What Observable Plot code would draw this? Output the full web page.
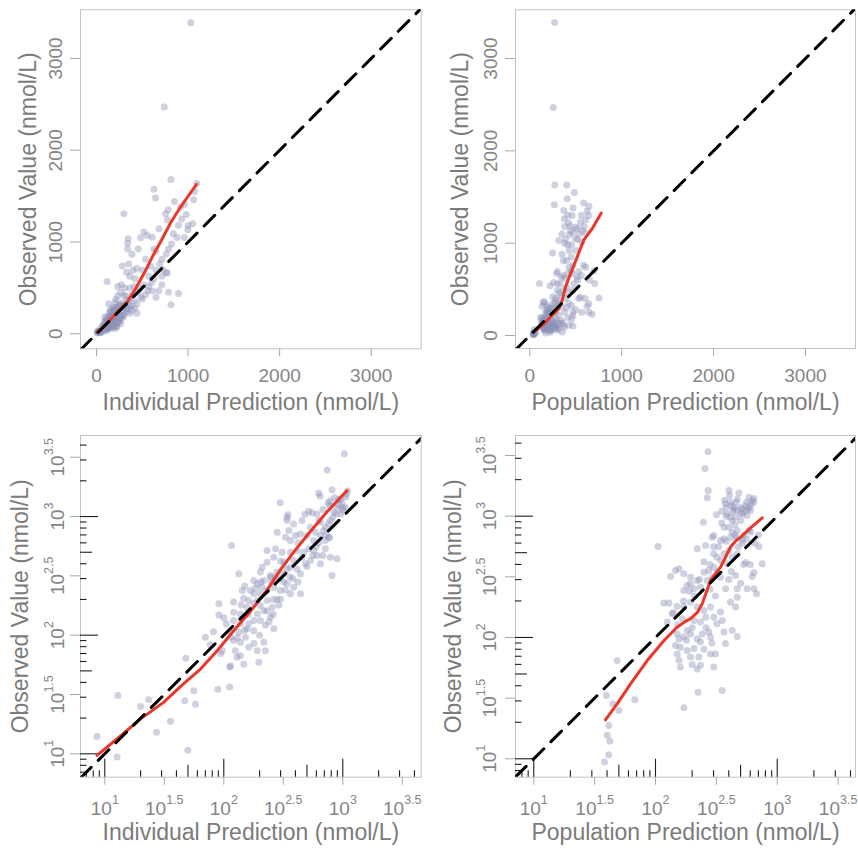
<!DOCTYPE html>
<html><head><meta charset="utf-8">
<script src="https://cdn.jsdelivr.net/npm/d3@7"></script>
<script src="https://cdn.jsdelivr.net/npm/@observablehq/plot@0.6"></script>
<style>
body{margin:0;background:#fff;}
#fig{position:relative;width:858px;height:855px;background:#fff;}
.panel{position:absolute;}
.panel svg{overflow:visible;}
</style></head><body><div id="fig"></div>
<script>
// ---- data: [individual prediction, observed] (nmol/L)
const indivPoints = [
[1030,3390],[740,2470],[628,1574],[813,1680],[1095,1640],[645,1480],[852,1443],[917,1382],[961,1410],[1060,1460],
[783,1352],[753,1309],[298,1309],[775,1240],[895,1183],[681,1145],[839,1089],[1001,1181],[997,1134],[608,1052],
[518,1109],[480,1047],[553,1072],[346,1036],[340,986],
[116,570],[340,925],[387,867],[455,925],[535,813],[628,925],[714,813],[787,925],[352,762],[400,692],
[441,714],[501,692],[589,738],[649,692],[762,670],[363,628],[281,738],[330,670],[231,517],[272,535],
[309,500],[363,500],[413,517],[470,500],[570,517],[608,469],[714,535],[787,454],[895,440],[210,374],
[231,412],[263,454],[319,412],[363,374],[413,362],[485,399],[535,426],[649,399],[813,318],[441,329],
[281,340],[134,329],[203,340],[247,318],
[179,289],[210,254],[272,308],[319,329],[340,362],[387,426],[455,454],[518,535],[628,600],[714,628],
[771,661],[649,900],[570,628],[191,196],[147,205],[231,161],
[143,238],[167,238],[191,271],[217,289],[247,308],[299,299],[340,271],[387,254],[441,223],[299,202],
[363,223],[162,196],[179,223],[203,223],[231,238],[263,254],[121,156],[138,151],[91,184],[121,190],
[157,172],[179,184],[203,178],[231,196],[255,172],[299,238],[191,151],[217,161],[247,142],[263,113],
[121,133],[138,125],[162,125],[179,133],[203,133],[224,121],[157,113],[179,109],[114,109],[134,106],
[91,148],[82,107],
[70,96],[77,83],[97,74],[94,70],[114,96],[121,90],[125,74],[138,87],[152,96],[162,79],
[179,85],[191,74],[217,87],[224,74],[138,67],[129,65],[114,55],[112,54],[147,57],[197,59],
[89,35],[112,36.5],[48,64],[56,34],[47,28],
[8.6,14],[12.7,9.4],[12.9,31],[20,25],[23.4,28.5],[27.2,15.2],[35.6,18.8],[57.8,26.1],[49.8,10.7],
[150,260],[260,200],[290,180],[330,240],[380,300],[420,280],[500,380],[560,470],[600,560],[680,470],
[720,700],[760,870],[820,980],[880,1050],[930,1250],[980,1300],[1050,1200],[1070,1550],[960,1050],[690,760],
[420,600],[300,420],[250,280],[205,280],[185,250],[160,150],[140,180],[105,125],[100,140],[130,95],
[150,110],[200,100],[240,130],[260,150],[280,200],[320,280],[360,310]
];
// ---- data: [population prediction, observed] (nmol/L)
const popPoints = [
[270,3390],[255,2470],[271,1630],[266,1417],[401,1630],[484,1549],[585,1435],[623,1346],[643,1400],[413,1303],
[376,1264],[441,1186],[469,1114],[500,1172],[550,1225],[604,1114],[566,1012],[455,982],[413,982],[388,1045],
[316,1029],[442,1138],[515,1155],[570,1138],[380,1180],[430,1090],[520,1040],[560,1300],[610,1250],[470,1380],
[406,1481],[370,1354],
[427,921],[500,921],[365,811],[401,811],[427,738],[469,762],[532,693],[585,762],[413,671],[365,650],
[342,630],[301,693],[292,671],[247,893],[258,573],[220,538],[105,562],[706,562],[753,405],[532,400],
[623,318],[455,324],[342,314],[321,345],[301,380],[342,432],[365,490],[401,521],[427,459],[388,405],
[469,490],[301,490],[321,459],[250,345],[274,357],[156,368],[146,357],[133,318],[171,335],[606,740],
[460,668],[515,632],[350,880],[450,850],[520,600],[560,650],[642,343],[551,415],
[566,252],[643,252],[676,229],[469,252],[376,252],[413,195],[469,215],[455,178],[182,268],[194,277],
[220,295],[171,244],[207,252],[234,260],[266,295],[292,314],[194,314],[117,192],[129,192],[137,157],
[171,180],[194,195],[220,178],[250,167],[283,178],[342,162],[353,138],[301,147],[258,147],[234,134],
[207,138],[166,143],[151,126],[125,134],[151,107],[182,114],[194,107],[242,107],[274,111],[365,111],
[469,102],[171,101],[427,114],
[156,97],[220,97],[283,101],[376,89],[146,86],[160,83],[151,73],[182,78],[207,81],[234,92],
[283,73],[311,73],[227,69],[194,69],[156,65],[160,57],[220,55],[234,59],[301,57],[224,35.4],
[353,36.6],[171,26.3],[48.4,64.5],[39.5,33.3],[44.9,28.4],[50,25],[67.6,30.6],[41.3,18.8],[40.1,15.6],[42.2,14],
[41.3,10.8],[38.1,9.4],
[380,1000],[420,1220],[460,1300],[500,1050],[540,1100],[590,1180],[640,1300],[350,1100],[330,560],[300,560],
[280,400],[250,420],[230,300],[210,220],[190,240],[170,200],[150,180],[140,160],[200,120],[260,120],
[320,130],[290,90],[250,80],[200,60],[180,95],[400,300],[420,350],[500,280],[600,400],[650,600],
[700,700],[480,560],[450,700],[380,620],[280,250],[310,220]
];
// ---- smoother (loess) curves
const smoothIndivLinear = [[7,18],[116,116],[226,236],[335,345],[426,491],[517,654],[608,836],[699,1000],[808,1207],[917,1381],[1092,1628]];
const smoothPopLinear = [[44,36],[152,126],[261,235],[316,289],[352,379],[388,524],[443,668],[515,849],[588,1036],[678,1156],[776,1325]];
const smoothIndivLog = [[8.6,9.7],[12.5,13.2],[20,19.7],[31,27],[46,39],[64,52],[88,74],[121,109],[167,158],[231,240],[299,355],[387,501],[501,692],[738,1096],[1086,1656]];
const smoothPopLog = [[38.8,20.9],[48.4,28.4],[62.4,41.5],[85.5,64.5],[117,94],[151,122],[175,135],[194,143],[220,160],[242,190],[283,295],[342,380],[365,431],[413,556],[460,630],[501,671],[604,800],[753,970]];
// ---- ticks
const linTicks = [0, 1000, 2000, 3000];
const linTickLabels = ["0", "1000", "2000", "3000"];
const logTicks = [10, 31.623, 100, 316.23, 1000, 3162.3];
const logTickLabels = ["10^1", "10^1.5", "10^2", "10^2.5", "10^3", "10^3.5"];
const logTicksLong = [10, 100, 1000];
const logTicksMid = [50, 500];
const logTicksShort = [6, 7, 8, 9, 20, 30, 40, 60, 70, 80, 90, 200, 300, 400, 600, 700, 800, 900, 2000, 3000, 4000];

const yTitle = "Observed Value (nmol/L)";
const panels = [
  {left: 0, top: 0, width: 429, height: 420, mL: 80, mR: 8.3, mT: 9.3, mB: 71.7, type: "linear",
   xDomain: [-175, 3546], yDomain: [-163, 3530], points: indivPoints, smooth: smoothIndivLinear,
   xTitle: "Individual Prediction (nmol/L)", xLabDy: 27, yLabDx: 24.5, yTitleDx: 52, xTitleDy: 54},
  {left: 429, top: 0, width: 429, height: 420, mL: 86, mR: 3, mT: 9.3, mB: 72, type: "linear",
   xDomain: [-156, 3545], yDomain: [-141, 3528], points: popPoints, smooth: smoothPopLinear,
   xTitle: "Population Prediction (nmol/L)", xLabDy: 27.5, yLabDx: 24.5, yTitleDx: 55, xTitleDy: 54},
  {left: 0, top: 420, width: 429, height: 435, mL: 80, mR: 8.3, mT: 15, mB: 78.3, type: "log",
   xDomain: [6.25, 4560], yDomain: [6.35, 4820], points: indivPoints, smooth: smoothIndivLog,
   xTitle: "Individual Prediction (nmol/L)", xLabDy: 31.5, yLabDx: 23, yTitleDx: 60, xTitleDy: 55},
  {left: 429, top: 420, width: 429, height: 435, mL: 86, mR: 3, mT: 15, mB: 78.3, type: "log",
   xDomain: [7.08, 4395], yDomain: [7.05, 4624], points: popPoints, smooth: smoothPopLog,
   xTitle: "Population Prediction (nmol/L)", xLabDy: 31.5, yLabDx: 26, yTitleDx: 62, xTitleDy: 55}
];

const FONT = '"Liberation Sans", Arial, Helvetica, sans-serif';
const fig = document.getElementById("fig");

function makePanel(p) {
  const W = p.width - p.mL - p.mR, H = p.height - p.mT - p.mB;
  const isLog = p.type === "log";
  const ticks = isLog ? logTicks : linTicks;
  const labels = isLog ? logTickLabels : linTickLabels;
  const marks = [
    Plot.frame({stroke: "#c2c2c2"}),
    Plot.axisX({ticks, tickSize: 8, tickFormat: () => "", stroke: "#a8a8a8", label: null}),
    Plot.axisY({ticks, tickSize: 10, tickFormat: () => "", stroke: "#a8a8a8", label: null})
  ];
  if (isLog) {
    for (const [vals, len] of [[logTicksLong, 18], [logTicksMid, 12], [logTicksShort, 6.5]]) {
      marks.push(Plot.tickX(vals.filter(v => v >= p.xDomain[0] && v <= p.xDomain[1]),
        {x: d => d, stroke: "#1e1e1e", strokeWidth: 1.1, insetTop: H - len}));
      marks.push(Plot.tickY(vals.filter(v => v >= p.yDomain[0] && v <= p.yDomain[1]),
        {y: d => d, stroke: "#1e1e1e", strokeWidth: 1.1, insetRight: W - len}));
    }
  }
  marks.push(
    Plot.dot(p.points, {x: d => d[0], y: d => d[1], r: 3.5, fill: "#8c92b8", fillOpacity: 0.42, clip: true}),
    Plot.line(p.smooth, {x: d => d[0], y: d => d[1], stroke: "#e8382b", strokeWidth: 3, clip: true}),
    Plot.line(p.xDomain, {x: d => d, y: d => d, stroke: "#000", strokeWidth: 3, strokeDasharray: "15,10", clip: true}),
    Plot.text(ticks, {x: d => d, frameAnchor: "bottom", dy: p.xLabDy, text: (d, i) => labels[i],
      fontSize: 19, fill: "#858585", lineAnchor: "middle", textAnchor: "middle"}),
    Plot.text(ticks, {y: d => d, frameAnchor: "left", dx: -p.yLabDx, rotate: -90, text: (d, i) => labels[i],
      fontSize: 19, fill: "#858585", lineAnchor: "middle", textAnchor: "middle"}),
    Plot.text([p.xTitle], {frameAnchor: "bottom", dy: p.xTitleDy, text: d => d, fontSize: 23, fill: "#7b7b7b",
      lineAnchor: "middle", textAnchor: "middle"}),
    Plot.text([yTitle], {frameAnchor: "left", dx: -p.yTitleDx, rotate: -90, text: d => d, fontSize: 23,
      fill: "#7b7b7b", lineAnchor: "middle", textAnchor: "middle"})
  );
  const svg = Plot.plot({
    width: p.width, height: p.height,
    marginLeft: p.mL, marginRight: p.mR, marginTop: p.mT, marginBottom: p.mB,
    x: {type: p.type, domain: p.xDomain},
    y: {type: p.type, domain: p.yDomain},
    style: {fontFamily: FONT, background: "white", overflow: "visible"},
    marks
  });
  const div = document.createElement("div");
  div.className = "panel";
  div.style.left = p.left + "px";
  div.style.top = p.top + "px";
  div.appendChild(svg);
  fig.appendChild(div);
}
panels.forEach(makePanel);

// superscripts for "10^k" labels
for (const t of fig.querySelectorAll("text")) {
  const m = /^(.*)\^(.*)$/.exec(t.textContent);
  if (!m) continue;
  t.textContent = m[1];
  const sup = document.createElementNS("http://www.w3.org/2000/svg", "tspan");
  sup.setAttribute("dy", "-11");
  sup.setAttribute("font-size", "12.5");
  sup.textContent = m[2];
  t.appendChild(sup);
}
</script></body></html>
